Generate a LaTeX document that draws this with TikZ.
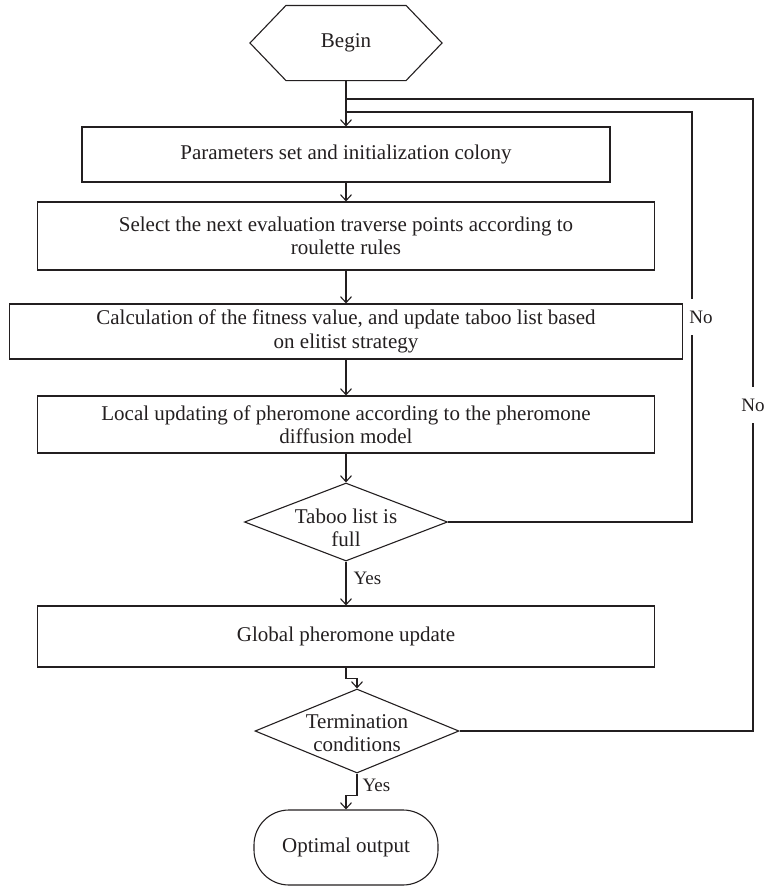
\documentclass[tikz,border=0pt]{standalone}
\usepackage{fontspec}
\setmainfont{Liberation Serif}
\usetikzlibrary{arrows.meta,shapes.geometric,calc}
\definecolor{ink}{RGB}{35,31,32}
\begin{document}
\begin{tikzpicture}[x=1pt,y=-1pt, line width=1.1pt, color=ink,
  font=\fontsize{21}{23.5}\selectfont,
  box/.style={draw, rectangle, inner sep=0pt, align=center},
  arr/.style={-{Straight Barb[length=6pt,width=11pt]}},
  lbl/.style={font=\fontsize{19}{21}\selectfont, inner sep=1pt}]
\useasboundingbox (0,0) rectangle (766,887);

% Begin hexagon
\node[inner sep=0pt, minimum width=191pt, minimum height=74pt] (begin) at (346,43) {Begin};
\draw (begin.west) -- ($(begin.north west)+(36,0)$) -- ($(begin.north east)+(-36,0)$)
  -- (begin.east) -- ($(begin.south east)+(-36,0)$) -- ($(begin.south west)+(36,0)$) -- cycle;

% process boxes
\node[box, minimum width=528pt, minimum height=55pt] (b1) at (346,154.5) {Parameters set and initialization colony};
\node[box, minimum width=617pt, minimum height=68pt] (b2) at (346,236) {Select the next evaluation traverse points according to\\roulette rules};
\node[box, minimum width=673pt, minimum height=55pt] (b3) at (346,331.5) {Calculation of the fitness value, and update taboo list based\\on elitist strategy};
\node[box, minimum width=617pt, minimum height=57pt] (b4) at (346,424.5) {Local updating of pheromone according to the pheromone\\diffusion model};
\node[diamond, draw, inner sep=0pt, minimum width=203pt, minimum height=78pt] (d1) at (346,522) {};
\node[align=center, inner sep=0pt] (t1) at (346,528) {Taboo list is\\full};
\node[box, minimum width=617pt, minimum height=61pt] (b5) at (346,636.5) {Global pheromone update};
\node[diamond, draw, inner sep=0pt, minimum width=204pt, minimum height=84pt] (d2) at (357,731) {};
\node[align=center, inner sep=0pt] (t2) at (357,733) {Termination\\conditions};
\node[draw, rounded corners=35pt, inner sep=0pt, minimum width=184pt, minimum height=75pt] (opt) at (346,847.5) {Optimal output};

% junction points on the trunk
\coordinate (j1) at (346,99);
\coordinate (j2) at (346,112);
\coordinate (c1) at (692,112);
\coordinate (c2) at (753,99);

% main flow
\draw[arr] (begin.south) -- (b1.north);
\draw[arr] (b1.south) -- (b2.north);
\draw[arr] (b2.south) -- (b3.north);
\draw[arr] (b3.south) -- (b4.north);
\draw[arr] (b4.south) -- (d1.north);
\draw[arr] (d1.south) -- (b5.north);
\draw[arr] (b5.south) -- ++(0,11) -| (d2.north);
\draw[arr] (d2.south) -- ++(0,22) -| (opt.north);

% loops
\draw (d1.east) -| (c1) -- (j2);
\draw (d2.east) -| (c2) -- (j1);

% labels
\node[lbl, fill=white, inner ysep=12pt] (no1) at (701,317) {No};
\node[lbl, fill=white, inner ysep=12pt] (no2) at (753,405) {No};
\node[lbl, anchor=west] (yes1) at (352,578) {Yes};
\node[lbl, anchor=west] (yes2) at (361,785) {Yes};
\end{tikzpicture}
\end{document}
